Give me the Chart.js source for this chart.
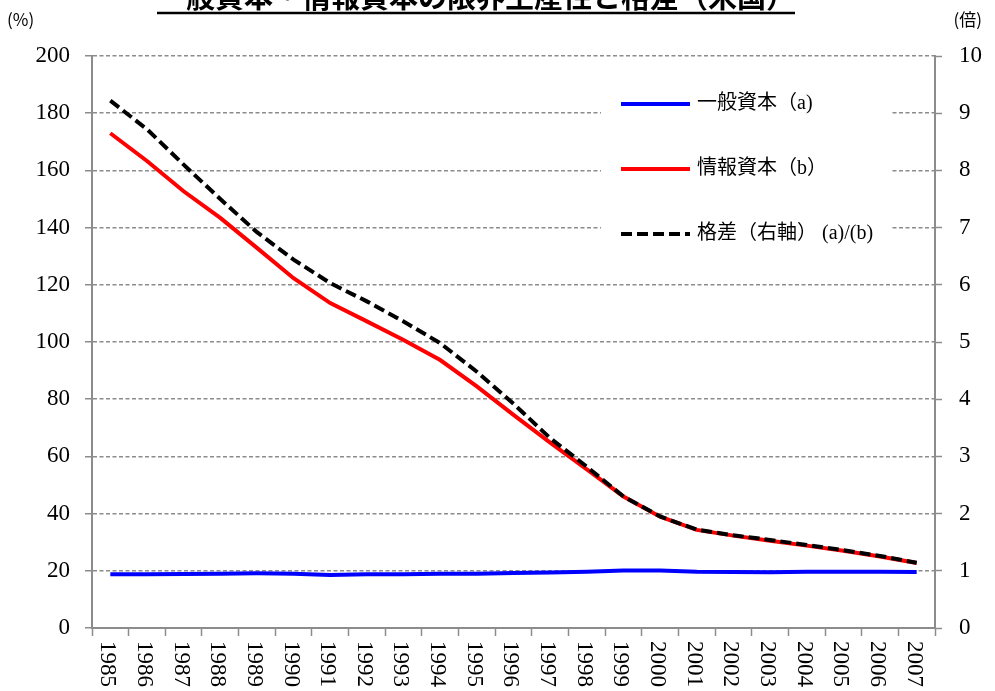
<!DOCTYPE html>
<html>
<head>
<meta charset="utf-8">
<script src="https://cdn.jsdelivr.net/npm/chart.js@4.4.1/dist/chart.umd.min.js"></script>
<style>
  html, body { margin: 0; padding: 0; background: #fff; }
  #wrap { width: 995px; height: 691px; }
</style>
</head>
<body>
<div id="wrap"><canvas id="chart" width="995" height="691"></canvas></div>
<script>
// 年（横軸）
const years = ['1985', '1986', '1987', '1988', '1989', '1990', '1991', '1992', '1993', '1994',
    '1995', '1996', '1997', '1998', '1999', '2000', '2001', '2002', '2003', '2004', '2005', '2006', '2007'];

// 一般資本 (a) の限界生産性（%、左軸）
const generalCapital = [18.8, 18.8, 18.9, 19.0, 19.1, 19.0, 18.5, 18.8, 18.8, 19.0,
    19.0, 19.2, 19.4, 19.7, 20.1, 20.1, 19.7, 19.6, 19.5, 19.7, 19.7, 19.7, 19.6];

// 情報資本 (b) の限界生産性（%、左軸）
const infoCapital = [173.0, 163.3, 152.7, 143.4, 132.9, 122.3, 113.6, 107.2, 100.7, 93.7,
    84.5, 74.5, 64.8, 55.5, 46.0, 38.9, 34.3, 32.3, 30.5, 28.8, 27.0, 25.0, 22.7];

// 格差（倍、右軸）
const gap = [9.22, 8.72, 8.10, 7.50, 6.92, 6.44, 6.03, 5.71, 5.36, 4.98,
    4.48, 3.92, 3.32, 2.82, 2.30, 1.95, 1.72, 1.62, 1.54, 1.45, 1.36, 1.26, 1.14];

// 目盛り
const leftTicks = [0, 20, 40, 60, 80, 100, 120, 140, 160, 180, 200];
const rightTicks = [0, 1, 2, 3, 4, 5, 6, 7, 8, 9, 10];

const titleText = '一般資本・情報資本の限界生産性と格差（米国）';
const legendItems = [
    { text: '一般資本（a)', color: '#0000ff', dash: [] },
    { text: '情報資本（b）', color: '#ff0000', dash: [] },
    { text: '格差（右軸） (a)/(b)', color: '#000000', dash: [11, 5] }
];

const gridColor = '#8c8c8c';
const serif = "'Liberation Serif', 'Times New Roman', serif";
const cjk = "'Noto Sans CJK JP', sans-serif";

// タイトル・単位・凡例・横軸ラベルを描くプラグイン
const decorPlugin = {
    id: 'decor',
    afterDraw(chart) {
        const ctx = chart.ctx;
        const area = chart.chartArea;
        const xs = chart.scales.x;
        ctx.save();

        // タイトル（上が切れている）
        ctx.font = 'bold 29px ' + cjk;
        ctx.fillStyle = '#000';
        ctx.textAlign = 'center';
        ctx.textBaseline = 'alphabetic';
        const tx = 476;
        ctx.fillText(titleText, tx, 8);
        const tw = ctx.measureText(titleText).width;
        ctx.strokeStyle = '#000';
        ctx.lineWidth = 2.5;
        ctx.beginPath();
        ctx.moveTo(tx - tw / 2, 13);
        ctx.lineTo(tx + tw / 2, 13);
        ctx.stroke();

        // 単位
        ctx.font = '17px ' + cjk;
        ctx.textBaseline = 'middle';
        ctx.textAlign = 'left';
        ctx.fillText('(%)', 7, 20);
        ctx.textAlign = 'right';
        ctx.fillText('(倍)', 982, 20);

        // 凡例
        ctx.fillStyle = '#fff';
        ctx.fillRect(601, 80, 290, 170);
        const ly = [104, 169, 234];
        legendItems.forEach((item, i) => {
            ctx.strokeStyle = item.color;
            ctx.lineWidth = 4;
            ctx.setLineDash(item.dash);
            ctx.beginPath();
            ctx.moveTo(621, ly[i]);
            ctx.lineTo(690, ly[i]);
            ctx.stroke();
            ctx.setLineDash([]);
            ctx.fillStyle = '#000';
            ctx.font = '20px ' + serif + ', ' + cjk;
            ctx.textAlign = 'left';
            ctx.textBaseline = 'middle';
            ctx.fillText(item.text, 697, ly[i]);
        });

        // 横軸ラベル（右回りに90度回転）
        ctx.font = '23px ' + serif;
        ctx.fillStyle = '#000';
        years.forEach((label, i) => {
            const x = xs.getPixelForValue(i) - 3;
            const y = area.bottom + 13;
            ctx.save();
            ctx.translate(x, y);
            ctx.rotate(Math.PI / 2);
            ctx.textAlign = 'left';
            ctx.textBaseline = 'middle';
            ctx.fillText(label, 0, 0);
            ctx.restore();
        });

        ctx.restore();
    }
};

const chart = new Chart(document.getElementById('chart').getContext('2d'), {
    type: 'line',
    data: {
        labels: years,
        datasets: [
            {
                label: '格差（右軸） (a)/(b)',
                data: gap,
                yAxisID: 'y1',
                borderColor: '#000',
                borderWidth: 4,
                borderDash: [11, 5],
                pointRadius: 0,
                tension: 0,
                order: 0
            },
            {
                label: '情報資本（b）',
                data: infoCapital,
                yAxisID: 'y',
                borderColor: '#ff0000',
                borderWidth: 4,
                pointRadius: 0,
                tension: 0,
                order: 1
            },
            {
                label: '一般資本（a)',
                data: generalCapital,
                yAxisID: 'y',
                borderColor: '#0000ff',
                borderWidth: 4,
                pointRadius: 0,
                tension: 0,
                order: 2
            }
        ]
    },
    options: {
        responsive: false,
        animation: false,
        layout: {
            padding: { left: 0, right: 0, top: 56, bottom: 55 }
        },
        plugins: {
            legend: { display: false },
            title: { display: false },
            tooltip: { enabled: false }
        },
        scales: {
            x: {
                offset: true,
                grid: {
                    offset: true,
                    drawOnChartArea: false,
                    drawTicks: true,
                    tickLength: 8,
                    tickColor: gridColor,
                    tickWidth: 1.5
                },
                border: { color: gridColor, width: 2 },
                ticks: { display: false }
            },
            y: {
                position: 'left',
                min: 0,
                max: 200,
                afterBuildTicks: axis => { axis.ticks = leftTicks.map(v => ({ value: v })); },
                afterFit: axis => { axis.width = 92; },
                grid: {
                    color: gridColor,
                    lineWidth: 1.5,
                    tickLength: 7,
                    tickColor: gridColor,
                    tickWidth: 1.5,
                    tickBorderDash: []
                },
                border: { color: gridColor, width: 2, dash: [4, 2.5] },
                ticks: {
                    color: '#000',
                    padding: 15,
                    font: { family: serif, size: 23 }
                }
            },
            y1: {
                position: 'right',
                min: 0,
                max: 10,
                afterBuildTicks: axis => { axis.ticks = rightTicks.map(v => ({ value: v })); },
                afterFit: axis => { axis.width = 60; },
                grid: {
                    drawOnChartArea: false,
                    tickLength: 7,
                    tickColor: gridColor,
                    tickWidth: 1.5
                },
                border: { color: gridColor, width: 2 },
                ticks: {
                    color: '#000',
                    padding: 17,
                    font: { family: serif, size: 23 }
                }
            }
        }
    },
    plugins: [decorPlugin]
});
</script>
</body>
</html>
